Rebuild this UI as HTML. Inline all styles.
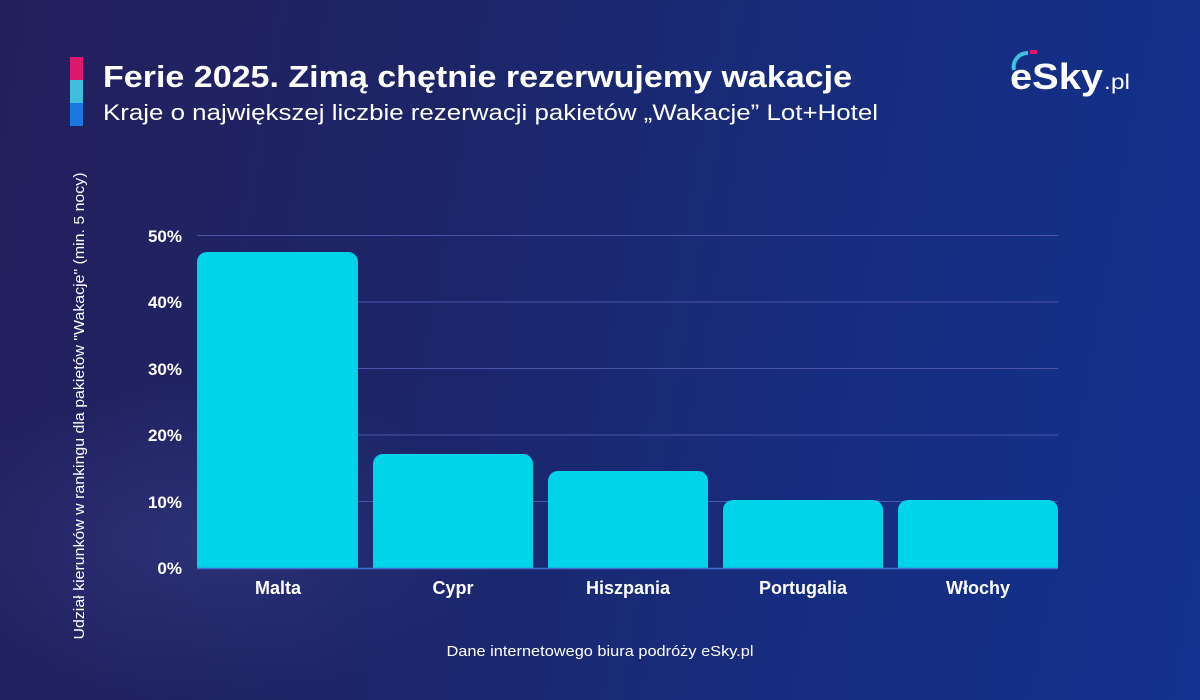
<!DOCTYPE html>
<html><head><meta charset="utf-8"><style>
html,body{margin:0;padding:0}
body{width:1200px;height:700px;overflow:hidden;position:relative;font-family:"Liberation Sans","DejaVu Sans",sans-serif;color:#fff;
background:linear-gradient(100deg,#231f5c 0%,#1d2568 35%,#162d80 70%,#13318e 100%);}
.a{position:absolute}
</style></head><body>
<div class="a" style="left:0;top:380px;width:500px;height:320px;background:radial-gradient(ellipse at 40% 50%,rgba(80,90,170,0.25),rgba(0,0,0,0) 70%)"></div>
<div class="a" style="left:70px;top:57px;width:13px;height:23px;background:#e0176e"></div>
<div class="a" style="left:70px;top:80px;width:13px;height:23px;background:#3fbfdc"></div>
<div class="a" style="left:70px;top:103px;width:13px;height:23px;background:#1a78e0"></div>
<svg class="a" style="left:0;top:0" width="1200" height="700">
<g font-family="Liberation Sans, sans-serif" fill="#fff">
<text x="103" y="87" font-size="31" font-weight="bold" textLength="749" lengthAdjust="spacingAndGlyphs">Ferie 2025. Zimą chętnie rezerwujemy wakacje</text>
<text x="103" y="120" font-size="22" textLength="775" lengthAdjust="spacingAndGlyphs">Kraje o największej liczbie rezerwacji pakietów „Wakacje” Lot+Hotel</text>
<text x="1010" y="89" font-size="36" font-weight="bold" textLength="93" lengthAdjust="spacingAndGlyphs">eSky</text>
<text x="1104" y="89" font-size="21" textLength="26" lengthAdjust="spacingAndGlyphs">.pl</text>
</g>
<path d="M1014 70 A14 14 0 0 1 1028 53" stroke="#3fbfdc" stroke-width="4" fill="none"/>
<path d="M1030 52 L1037 52" stroke="#e0176e" stroke-width="4"/>
<g stroke="#4a55a8" stroke-width="1">
<line x1="197" y1="235.5" x2="1058" y2="235.5"/><line x1="197" y1="302" x2="1058" y2="302"/>
<line x1="197" y1="368.5" x2="1058" y2="368.5"/><line x1="197" y1="435" x2="1058" y2="435"/>
<line x1="197" y1="501.5" x2="1058" y2="501.5"/></g>
<g fill="#00d4e9">
<path d="M197 568V262a10 10 0 0 1 10-10h141a10 10 0 0 1 10 10V568z"/>
<path d="M373 568V464a10 10 0 0 1 10-10h140a10 10 0 0 1 10 10V568z"/>
<path d="M548 568V481a10 10 0 0 1 10-10h140a10 10 0 0 1 10 10V568z"/>
<path d="M723 568V510a10 10 0 0 1 10-10h140a10 10 0 0 1 10 10V568z"/>
<path d="M898 568V510a10 10 0 0 1 10-10h140a10 10 0 0 1 10 10V568z"/>
</g>
<line x1="197" y1="568.5" x2="1058" y2="568.5" stroke="#3f6fd0" stroke-width="1.5"/>
<g fill="#fff" font-family="Liberation Sans, sans-serif" font-weight="bold" font-size="17" text-anchor="end">
<text x="182" y="242">50%</text><text x="182" y="308">40%</text><text x="182" y="375">30%</text>
<text x="182" y="441">20%</text><text x="182" y="508">10%</text><text x="182" y="574">0%</text></g>
<g fill="#fff" font-family="Liberation Sans, sans-serif" font-weight="bold" font-size="18" text-anchor="middle">
<text x="278" y="594">Malta</text><text x="453" y="594">Cypr</text><text x="628" y="594">Hiszpania</text>
<text x="803" y="594">Portugalia</text><text x="978" y="594">Włochy</text></g>
<text x="0" y="0" transform="translate(84,406) rotate(-90)" fill="#fff" font-family="Liberation Sans, sans-serif" font-size="15" text-anchor="middle" textLength="467" lengthAdjust="spacingAndGlyphs">Udział kierunków w rankingu dla pakietów "Wakacje" (min. 5 nocy)</text>
<text x="600" y="656" fill="#fff" font-family="Liberation Sans, sans-serif" font-size="15" text-anchor="middle" textLength="307" lengthAdjust="spacingAndGlyphs">Dane internetowego biura podróży eSky.pl</text>
</svg>
</body></html>
